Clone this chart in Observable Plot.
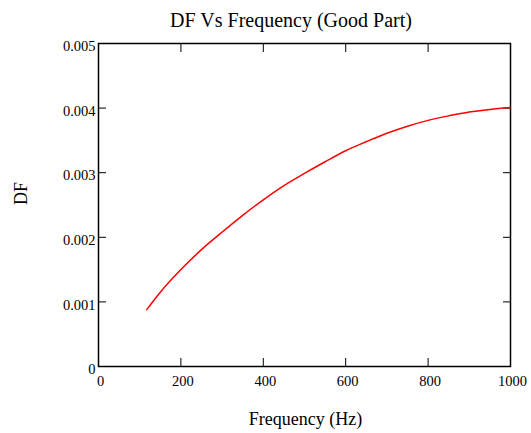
<!DOCTYPE html>
<html><head><meta charset="utf-8">
<script src="https://cdn.jsdelivr.net/npm/d3@7"></script>
<script src="https://cdn.jsdelivr.net/npm/@observablehq/plot@0.6"></script>
<style>
body{margin:0;background:#fff;}
#title{height:34px;padding-top:2px;padding-left:51px;text-align:center;font-family:"Liberation Serif",serif;font-size:20px;line-height:36px;color:#000;}
#chart svg, #chart svg text, #chart svg g{font-family:"Liberation Serif",serif !important;font-variant:normal !important;font-variant-numeric:normal !important;}
</style></head><body>
<div id="title">DF Vs Frequency (Good Part)</div>
<div id="chart"></div>
<script>
const freq = [117, 150, 200, 250, 300, 350, 400, 450, 500, 550, 600, 650, 700, 750, 800, 850, 900, 950, 1000];
const dfValues = [0.00088, 0.00115, 0.00150, 0.00181, 0.00208, 0.00234, 0.00258, 0.00280, 0.00299, 0.00317, 0.00334, 0.00348, 0.00361, 0.00372, 0.00381, 0.00388, 0.00394, 0.00398, 0.00401];
const xTicks = [0, 200, 400, 600, 800, 1000];
const yTicks = [0, 0.001, 0.002, 0.003, 0.004, 0.005];
const title = "DF Vs Frequency (Good Part)";
const xLabel = "Frequency (Hz)";
const yLabel = "DF";

const data = freq.map((f, i) => ({f, df: dfValues[i]}));
const xInner = xTicks.filter(d => d > 0 && d < 1000);
const yInner = yTicks.filter(d => d > 0 && d < 0.005);
const yFmt = d => d === 0 ? "0" : d.toFixed(3);
const xFmt = d => String(d);
const serif = "Liberation Serif";

const chart = Plot.plot({
  width: 531,
  height: 397,
  marginTop: 7,
  marginBottom: 67,
  marginLeft: 98,
  marginRight: 21,
  style: {fontFamily: serif, fontSize: "14.5px", color: "#000", background: "#fff"},
  x: {domain: [0, 1000]},
  y: {domain: [0, 0.005]},
  marks: [
    Plot.frame({stroke: "#000", strokeWidth: 1.5}),
    Plot.axisX(xInner, {anchor: "bottom", tickSize: -8, tickFormat: () => "", label: null}),
    Plot.axisX(xInner, {anchor: "top", tickSize: -8, tickFormat: () => "", label: null}),
    Plot.axisY(yInner, {anchor: "left", tickSize: -8, tickFormat: () => "", label: null}),
    Plot.axisY(yInner, {anchor: "right", tickSize: -8, tickFormat: () => "", label: null}),
    Plot.text(xTicks, {x: d => d, frameAnchor: "bottom", dy: 9, dx: 2, text: xFmt, lineAnchor: "top", fontSize: 14.5, fontFamily: serif, fill: "#000"}),
    Plot.text(yTicks, {y: d => d, frameAnchor: "left", dx: -3, dy: 3, text: yFmt, textAnchor: "end", lineAnchor: "middle", fontSize: 14.5, fontFamily: serif, fill: "#000"}),
    Plot.line(data, {x: "f", y: "df", stroke: "#ff0000", strokeWidth: 1.5, curve: "monotone-x"}),
    Plot.text([xLabel], {frameAnchor: "bottom", dy: 53, dx: 1, text: d => d, fontSize: 18, fontFamily: serif, fill: "#000", lineAnchor: "middle"}),
    Plot.text([yLabel], {frameAnchor: "left", dx: -77, text: d => d, fontSize: 18, fontFamily: serif, rotate: -90, fill: "#000", lineAnchor: "middle"})
  ]
});
document.getElementById("chart").appendChild(chart);
</script>
</body></html>
